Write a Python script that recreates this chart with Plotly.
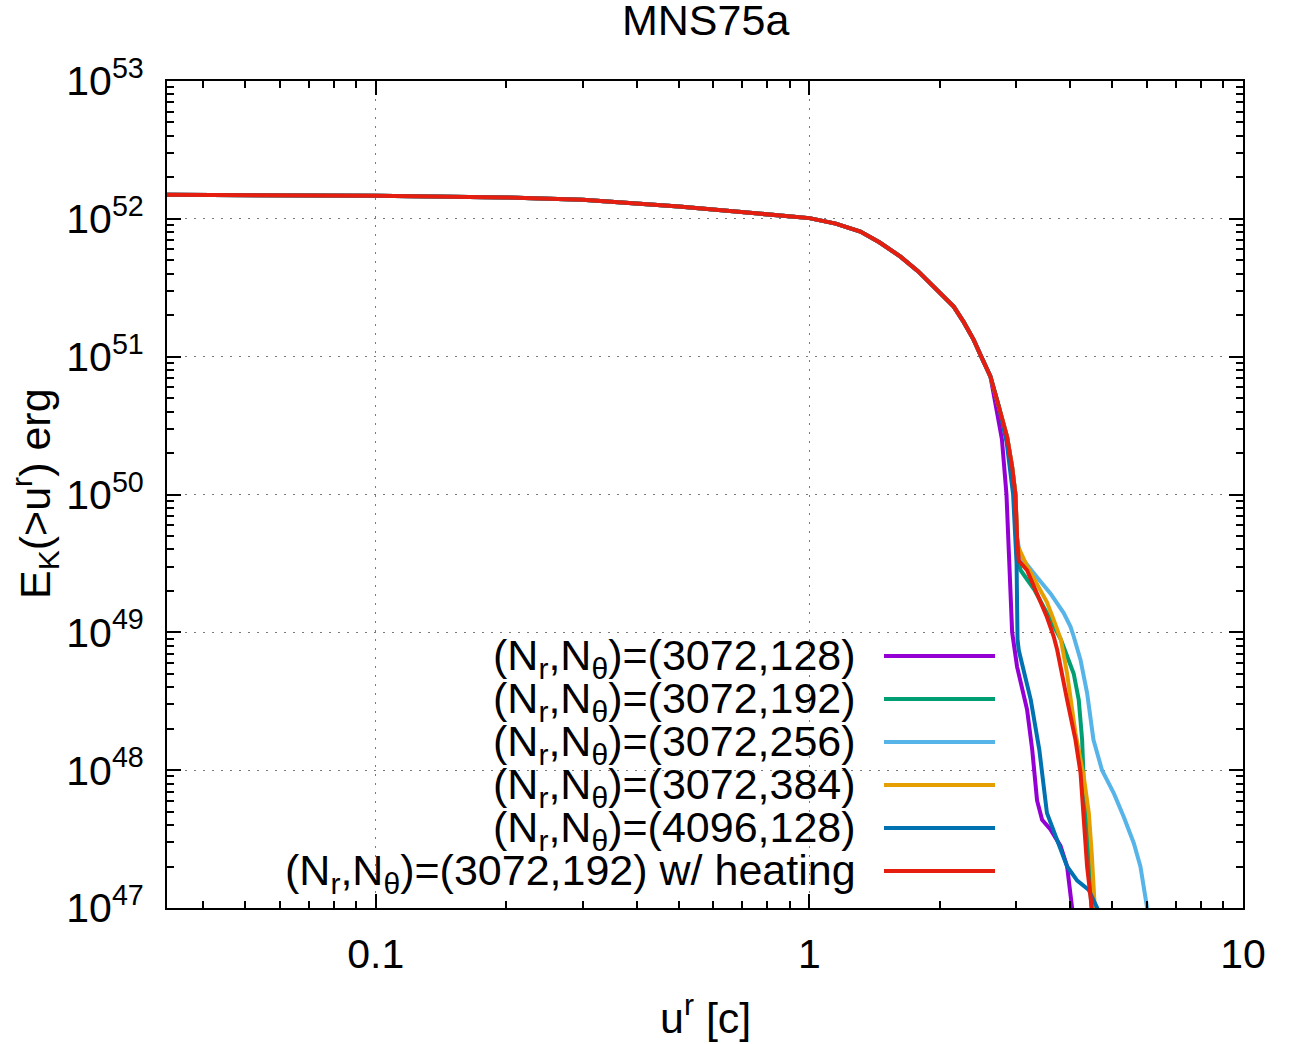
import plotly.graph_objects as go
import numpy as np

# ---------------- data ----------------
# common low-velocity part shared by all runs
base_u = [0.033, 0.05, 0.1, 0.2, 0.3, 0.5, 0.7, 1.0, 1.15, 1.311, 1.45, 1.622, 1.78, 1.935,
          2.05, 2.152, 2.27, 2.393, 2.5, 2.615]
base_E = [1.493e52, 1.486e52, 1.472e52, 1.429e52, 1.374e52, 1.230e52, 1.122e52, 1.012e52,
          9.23e51, 8.09e51, 6.76e51, 5.32e51, 4.17e51, 3.23e51,
          2.69e51, 2.31e51, 1.78e51, 1.324e51, 9.77e50, 7.18e50]

# high-velocity tails for each run
u_3072_128 = [2.70, 2.78, 2.848, 2.895, 2.91, 2.935, 3.013, 3.177, 3.265, 3.35, 3.441, 3.597, 3.794, 3.93, 4.035, 4.06]
E_3072_128 = [4.17e50, 2.51e50, 1.0e50, 3.16e49, 1.70e49, 1.0e49, 5.62e48, 2.75e48, 1.41e48, 6.03e47,
              4.37e47, 3.72e47, 2.82e47, 2.0e47, 1.0e47, 7.1e46]

u_3072_192 = [2.734, 2.858, 2.935, 2.987, 3.013, 3.04, 3.07, 3.30, 3.53, 3.80, 4.07, 4.18, 4.256, 4.294, 4.37, 4.45, 4.48, 4.50]
E_3072_192 = [4.35e50, 2.61e50, 1.58e50, 1.0e50, 4.47e49, 3.16e49, 2.82e49, 2.04e49, 1.38e49, 8.91e48,
              5.01e48, 3.24e48, 1.66e48, 7.94e47, 3.47e47, 1.51e47, 1.0e47, 7.1e46]

u_3072_256 = [2.734, 2.858, 2.935, 2.987, 3.013, 3.07, 3.35, 3.60, 3.86, 4.0, 4.07, 4.22, 4.37, 4.52, 4.73,
              5.04, 5.31, 5.60, 5.80, 6.01, 6.05]
E_3072_256 = [4.35e50, 2.61e50, 1.58e50, 1.0e50, 4.79e49, 3.55e49, 2.51e49, 1.91e49, 1.38e49, 1.10e49,
              9.33e48, 6.31e48, 3.63e48, 1.66e48, 1.0e48, 6.76e47, 4.57e47, 2.95e47, 2.0e47, 1.0e47, 7.1e46]

u_3072_384 = [2.734, 2.858, 2.935, 2.987, 3.013, 3.03, 3.177, 3.41, 3.53, 3.66, 3.80, 3.93, 4.108, 4.294, 4.41, 4.48, 4.55, 4.58]
E_3072_384 = [4.35e50, 2.61e50, 1.58e50, 1.0e50, 4.79e49, 4.17e49, 3.02e49, 2.04e49, 1.66e49, 1.23e49,
              8.91e48, 5.01e48, 1.86e48, 8.91e47, 4.90e47, 2.45e47, 1.0e47, 7.1e46]

u_4096_128 = [2.734, 2.85, 2.95, 2.99, 3.005, 3.013, 3.02, 3.04, 3.24, 3.39, 3.53, 3.73, 3.93, 4.146, 4.41, 4.61, 4.70]
E_4096_128 = [4.35e50, 2.40e50, 1.0e50, 5.01e49, 3.16e49, 1.58e49, 8.91e48, 7.41e48, 3.24e48, 1.41e48,
              4.90e47, 3.09e47, 2.0e47, 1.58e47, 1.35e47, 1.0e47, 7.9e46]

u_3072_192h = [2.734, 2.858, 2.935, 2.987, 3.013, 3.04, 3.177, 3.30, 3.53, 3.66, 3.73, 3.93, 4.108, 4.22, 4.294, 4.37, 4.48, 4.52]
E_3072_192h = [4.35e50, 2.61e50, 1.58e50, 1.0e50, 4.90e49, 3.31e49, 2.82e49, 2.14e49, 1.29e49, 9.33e48,
               7.41e48, 3.24e48, 1.66e48, 9.55e47, 4.57e47, 2.0e47, 1.0e47, 6.3e46]

labels = [
    "(N<sub>r</sub>,N<sub>θ</sub>)=(3072,128)",
    "(N<sub>r</sub>,N<sub>θ</sub>)=(3072,192)",
    "(N<sub>r</sub>,N<sub>θ</sub>)=(3072,256)",
    "(N<sub>r</sub>,N<sub>θ</sub>)=(3072,384)",
    "(N<sub>r</sub>,N<sub>θ</sub>)=(4096,128)",
    "(N<sub>r</sub>,N<sub>θ</sub>)=(3072,192) w/ heating",
]
colors = ["#9400d3", "#009e73", "#56b4e9", "#e69f00", "#0072b2", "#e51e10"]
tails = [(u_3072_128, E_3072_128), (u_3072_192, E_3072_192), (u_3072_256, E_3072_256),
         (u_3072_384, E_3072_384), (u_4096_128, E_4096_128), (u_3072_192h, E_3072_192h)]

x_ticks = [0.1, 1, 10]
x_ticktext = ["0.1", "1", "10"]
y_exps = [47, 48, 49, 50, 51, 52, 53]

# ---------------- layout geometry ----------------
W, H = 1294, 1044
L, R, T, B = 167, 1243, 81, 908
FONT = "Liberation Sans, Arial, Helvetica, sans-serif"
FS_TICK = 41
FS_TEXT = 43

def px_x(px):
    return (px - L) / (R - L)

def px_y(py):
    return (B - py) / (B - T)

fig = go.Figure()
for lab, col, (tu, tE) in zip(labels, colors, tails):
    fig.add_trace(go.Scatter(
        x=base_u + tu, y=base_E + tE, mode="lines",
        line=dict(color=col, width=4), name=lab, showlegend=False,
        cliponaxis=True, hoverinfo="skip",
    ))

# minor tick positions
x_minor = [m * 10.0 ** d for d in (-2, -1, 0) for m in range(2, 10) if 0.033 <= m * 10.0 ** d <= 10]
y_minor = [m * 10.0 ** e for e in range(47, 53) for m in range(2, 10)]

axis_common = dict(
    showline=True, linecolor="black", linewidth=2, mirror="ticks",
    ticks="inside", tickcolor="black", tickwidth=2, ticklen=14,
    showgrid=True, gridcolor="#7a7a7a", gridwidth=1, griddash="2px,7px",
    zeroline=False,
    tickfont=dict(family=FONT, size=FS_TICK, color="black"),
)

fig.update_xaxes(
    type="log", range=[np.log10(0.033), 1],
    tickmode="array", tickvals=x_ticks, ticktext=x_ticktext,
    minor=dict(tickmode="array", tickvals=x_minor, ticks="inside", ticklen=7,
               tickwidth=2, tickcolor="black", showgrid=False),
    ticklabelstandoff=9,
    **axis_common,
)
fig.update_yaxes(
    type="log", range=[47, 53],
    tickmode="array", tickvals=[10.0 ** e for e in y_exps],
    ticktext=[f"10<sup>{e}</sup>" for e in y_exps],
    minor=dict(tickmode="array", tickvals=y_minor, ticks="inside", ticklen=7,
               tickwidth=2, tickcolor="black", showgrid=False),
    ticklabelstandoff=13,
    **axis_common,
)

shapes = []
annotations = []
# opaque key box (hides grid behind the key)
shapes.append(dict(type="rect", xref="paper", yref="paper",
                   x0=px_x(276), x1=px_x(1018), y0=px_y(905), y1=px_y(638),
                   fillcolor="white", line=dict(width=0), layer="between"))

row_y = [656, 699, 742, 785, 828, 871]
for lab, col, ry in zip(labels, colors, row_y):
    shapes.append(dict(type="line", xref="paper", yref="paper",
                       x0=px_x(884), x1=px_x(995), y0=px_y(ry), y1=px_y(ry),
                       line=dict(color=col, width=4), layer="above"))
    annotations.append(dict(text=lab, xref="paper", yref="paper",
                            x=px_x(858), y=px_y(ry + 2), xanchor="right", yanchor="middle",
                            showarrow=False, font=dict(family=FONT, size=FS_TEXT, color="black")))

annotations.append(dict(text="MNS75a", xref="paper", yref="paper", x=px_x(705), y=px_y(20),
                        xanchor="center", yanchor="middle", showarrow=False,
                        font=dict(family=FONT, size=FS_TEXT, color="black")))
annotations.append(dict(text="u<sup>r</sup> [c]", xref="paper", yref="paper", x=px_x(705), y=px_y(1015),
                        xanchor="center", yanchor="middle", showarrow=False,
                        font=dict(family=FONT, size=FS_TEXT, color="black")))
annotations.append(dict(text="E<sub>K</sub>(>u<sup>r</sup>) erg", xref="paper", yref="paper",
                        x=px_x(35), y=px_y(494), xanchor="center", yanchor="middle", textangle=-90,
                        showarrow=False, font=dict(family=FONT, size=FS_TEXT, color="black")))

fig.update_layout(
    width=W, height=H,
    margin=dict(l=L, r=W - R, t=T, b=H - B, pad=0),
    paper_bgcolor="white", plot_bgcolor="white",
    shapes=shapes, annotations=annotations,
    showlegend=False, hovermode=False,
)

fig.write_html("out.html", config={"displayModeBar": False, "staticPlot": True},
               post_script="document.body.style.margin='0px';")
